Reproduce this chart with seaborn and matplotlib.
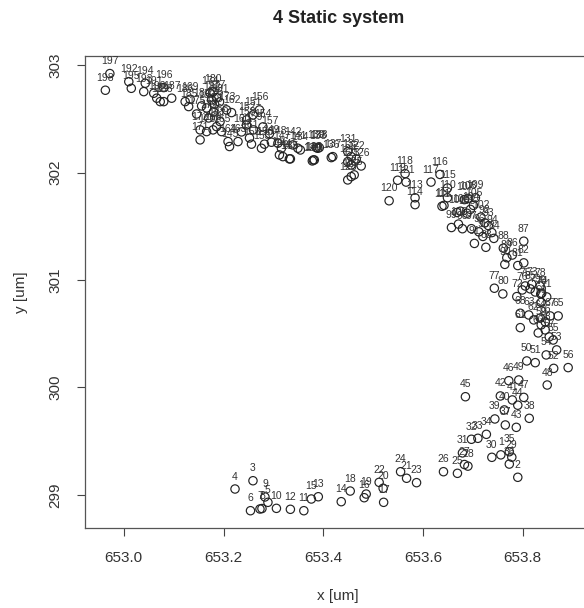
import numpy as np
import pandas as pd
import seaborn as sns
import matplotlib
matplotlib.use("Agg")
import matplotlib.pyplot as plt

# positions of the tracked object, frames 1..198
pt_x = [653.756, 653.790, 653.259, 653.223, 653.289, 653.254, 653.273, 653.277, 653.283, 653.306,
        653.361, 653.334, 653.390, 653.436, 653.376, 653.482, 653.521, 653.454, 653.486, 653.520,
        653.567, 653.512, 653.587, 653.555, 653.669, 653.641, 653.683, 653.690, 653.778, 653.738,
        653.679, 653.697, 653.710, 653.727, 653.773, 653.773, 653.765, 653.813, 653.744, 653.763,
        653.779, 653.755, 653.787, 653.790, 653.685, 653.772, 653.802, 653.849, 653.792, 653.808,
        653.825, 653.862, 653.868, 653.847, 653.861, 653.891, 653.853, 653.845, 653.837, 653.831,
        653.795, 653.822, 653.812, 653.835, 653.871, 653.845, 653.855, 653.795, 653.837, 653.836,
        653.848, 653.788, 653.818, 653.838, 653.805, 653.799, 653.743, 653.835, 653.825, 653.760,
        653.790, 653.802, 653.726, 653.742, 653.815, 653.779, 653.802, 653.761, 653.768, 653.764,
        653.703, 653.724, 653.731, 653.738, 653.720, 653.712, 653.697, 653.679, 653.657, 653.671,
        653.668, 653.716, 653.688, 653.695, 653.701, 653.675, 653.683, 653.690, 653.705, 653.649,
        653.638, 653.642, 653.584, 653.584, 653.649, 653.634, 653.616, 653.564, 653.549, 653.532,
        653.566, 653.466, 653.456, 653.449, 653.462, 653.476, 653.456, 653.449, 653.378, 653.382,
        653.449, 653.456, 653.389, 653.354, 653.334, 653.416, 653.419, 653.392, 653.386, 653.380,
        653.349, 653.339, 653.332, 653.319, 653.212, 653.312, 653.316, 653.309, 653.296, 653.282,
        653.259, 653.246, 653.276, 653.279, 653.256, 653.272, 653.292, 653.246, 653.260, 653.236,
        653.252, 653.216, 653.229, 653.209, 653.196, 653.193, 653.186, 653.179, 653.133, 653.166,
        653.153, 653.153, 653.206, 653.173, 653.146, 653.182, 653.186, 653.180, 653.170, 653.179,
        653.192, 653.176, 653.166, 653.156, 653.130, 653.123, 653.096, 653.080, 653.073, 653.066,
        653.060, 653.010, 653.040, 653.043, 653.015, 653.080, 652.972, 652.963]

pt_y = [299.372, 299.163, 299.131, 299.054, 298.930, 298.852, 298.868, 298.872, 298.980, 298.874,
        298.852, 298.865, 298.982, 298.936, 298.961, 298.973, 298.930, 299.035, 299.007, 299.061,
        299.154, 299.116, 299.113, 299.215, 299.200, 299.215, 299.282, 299.267, 299.350, 299.349,
        299.390, 299.517, 299.526, 299.563, 299.401, 299.286, 299.650, 299.712, 299.706, 299.790,
        299.883, 299.920, 299.628, 299.834, 299.913, 300.062, 299.907, 300.022, 300.069, 300.246,
        300.230, 300.177, 300.349, 300.302, 300.441, 300.184, 300.470, 300.535, 300.582, 300.507,
        300.556, 300.628, 300.674, 300.646, 300.665, 300.610, 300.665, 300.690, 300.792, 300.870,
        300.842, 300.845, 300.962, 300.876, 300.944, 300.907, 300.923, 300.944, 300.888, 300.870,
        301.134, 301.159, 301.304, 301.387, 300.917, 301.232, 301.361, 301.296, 301.207, 301.145,
        301.340, 301.531, 301.506, 301.441, 301.405, 301.448, 301.477, 301.477, 301.488, 301.520,
        301.628, 301.585, 301.621, 301.657, 301.694, 301.640, 301.748, 301.759, 301.765, 301.765,
        301.686, 301.694, 301.765, 301.701, 301.856, 301.982, 301.911, 301.990, 301.928, 301.737,
        301.911, 302.127, 302.070, 302.101, 301.978, 302.061, 301.962, 301.931, 302.108, 302.117,
        302.195, 302.148, 302.226, 302.210, 302.127, 302.139, 302.148, 302.232, 302.232, 302.117,
        302.226, 302.257, 302.127, 302.148, 302.242, 302.164, 302.226, 302.273, 302.282, 302.264,
        302.536, 302.490, 302.226, 302.425, 302.264, 302.583, 302.362, 302.443, 302.397, 302.378,
        302.322, 302.558, 302.288, 302.288, 302.381, 302.474, 302.427, 302.397, 302.682, 302.381,
        302.304, 302.397, 302.583, 302.740, 302.545, 302.636, 302.697, 302.564, 302.508, 302.750,
        302.657, 302.676, 302.601, 302.620, 302.614, 302.660, 302.692, 302.660, 302.660, 302.692,
        302.738, 302.846, 302.753, 302.831, 302.784, 302.791, 302.921, 302.766]

frames = list(range(1, len(pt_x) + 1))

x_ticks = [653.0, 653.2, 653.4, 653.6, 653.8]
y_ticks = [299, 300, 301, 302, 303]

df = pd.DataFrame({"x": pt_x, "y": pt_y, "frame": frames})

plt.rcParams["font.family"] = ["Liberation Sans", "DejaVu Sans"]

fig = plt.figure(figsize=(5.84, 6.08), dpi=100)
ax = fig.add_axes([0.1454, 0.1314, 0.8676, 0.7762])

sns.scatterplot(data=df, x="x", y="y", ax=ax, marker="o", s=36, linewidth=0.85, legend=False)
pts = ax.collections[0]
pts.set_facecolor("none")
pts.set_edgecolor("#222222")

for _, r in df.iterrows():
    ax.annotate(str(int(r.frame)), (r.x, r.y), xytext=(0, 9), textcoords="offset points",
                ha="center", va="center", fontsize=7.5, color="#333333")

ax.set_xlim(652.922, 653.938)
ax.set_ylim(298.69, 303.083)
ax.set_xticks(x_ticks)
ax.set_xticklabels([f"{v:.1f}" for v in x_ticks])
ax.set_yticks(y_ticks)
ax.set_yticklabels([str(v) for v in y_ticks])
ax.tick_params(axis="both", direction="out", length=5.5, width=0.8, color="#444444",
               labelsize=11, labelcolor="#333333")
ax.tick_params(axis="x", pad=11)
ax.tick_params(axis="y", pad=11, labelrotation=90)
for t in ax.get_yticklabels():
    t.set_va("center")

for s in ax.spines.values():
    s.set_color("#555555")
    s.set_linewidth(0.9)

ax.set_xlabel("x [um]", fontsize=11, color="#333333")
ax.set_ylabel("y [um]", fontsize=11, color="#333333")
ax.xaxis.set_label_coords(0.5, -0.13)
ax.yaxis.set_label_coords(-0.112, 0.5)

fig.text(0.5796, 0.970, "4 Static system", ha="center", va="center",
         fontsize=13, fontweight="bold", color="#222222")

fig.savefig("out.png", dpi=100, facecolor="white")
